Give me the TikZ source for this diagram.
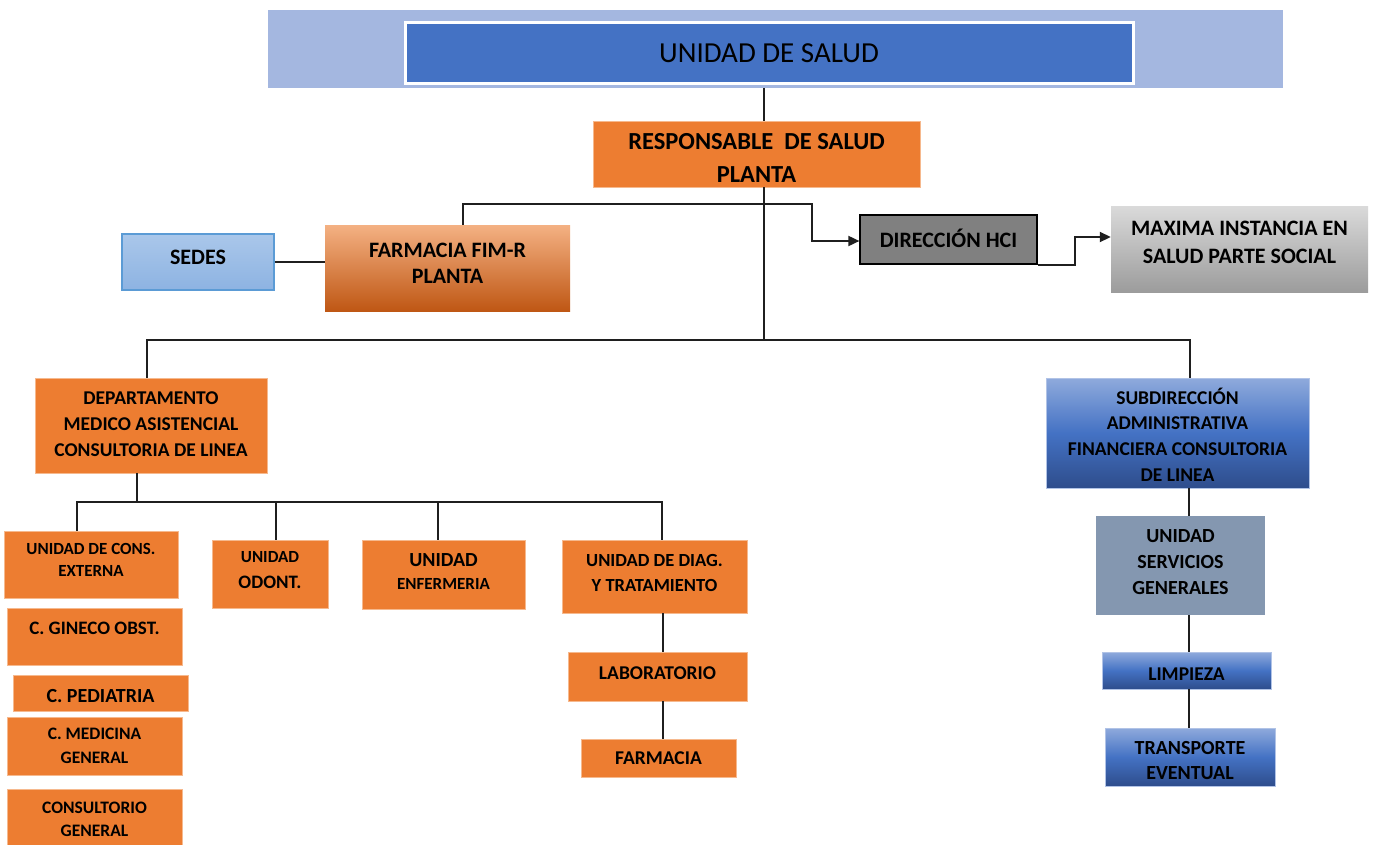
\documentclass[tikz,border=0pt]{standalone}
\usepackage{fontspec}
\setmainfont{Carlito}
\usetikzlibrary{arrows.meta}
\definecolor{bandblue}{HTML}{A4B7E0}
\definecolor{accblue}{HTML}{4472C4}
\definecolor{orgfill}{HTML}{ED7D31}
\definecolor{orgedge}{HTML}{F6B98E}
\definecolor{orglight}{HTML}{F4B183}
\definecolor{orgdark}{HTML}{BF5714}
\definecolor{skytop}{HTML}{AAC7EA}
\definecolor{skybot}{HTML}{8DB3E2}
\definecolor{skyedge}{HTML}{5B9BD5}
\definecolor{bluetop}{HTML}{8FAADC}
\definecolor{bluebot}{HTML}{2E4D8C}
\definecolor{greyfill}{HTML}{808080}
\definecolor{greytop}{HTML}{DADADA}
\definecolor{greybot}{HTML}{9C9C9C}
\definecolor{slate}{HTML}{8497B0}
\newcommand{\fsz}[2]{\fontsize{#1}{#2}\selectfont}
% \orgbox{name}{box style}{cx,cy}{width}{height}{text offset}{font}{text}
\newcommand{\orgbox}[8]{%
  \node[#2, wh={#4}{#5}] (#1) at (#3) {};
  \path (#1.center) ++(0,#6) node[txt, font=#7] (#1-t) {#8};}
\begin{document}
\begin{tikzpicture}[x=1pt,y=-1pt,
  wh/.style 2 args={minimum width=#1, minimum height=#2},
  box/.style={rectangle, inner sep=0pt},
  txt/.style={inner sep=0pt, align=center, text=black},
  obox/.style={box, fill=orgfill, draw=orgedge, line width=0.8pt},
  gbox/.style={box, shading=axis, top color=bluetop, bottom color=bluebot,
               middle color=accblue, draw=bluetop!70!white, line width=0.6pt},
  fbox/.style={box, shading=axis, top color=orglight, middle color=orgfill,
               bottom color=orgdark},
  sbox/.style={box, shading=axis, top color=skytop, bottom color=skybot,
               draw=skyedge, line width=1.2pt},
  dbox/.style={box, fill=greyfill, draw=black, line width=1.2pt},
  mbox/.style={box, shading=axis, top color=greytop, bottom color=greybot},
  vbox/.style={box, fill=slate},
  conn/.style={draw=black!88, line width=1.8pt},
  arr/.style={conn, -{Triangle[length=11pt,width=10pt]}}]

\clip (0,0) rectangle (1374,844);
\fill[white] (0,0) rectangle (1374,844);

% top level
\node[box, fill=bandblue, wh={1015}{78}] (band) at (775.5,49) {};
\orgbox{top}{box, fill=accblue, draw=white, line width=3pt}{769,52.5}{728}{61}{0.5}
  {\fsz{29}{34}}{UNIDAD DE SALUD}
\orgbox{resp}{obox}{756.5,154}{327}{66}{3.5}
  {\bfseries\fsz{24.5}{33}}{RESPONSABLE\ \ DE SALUD\\PLANTA}

% staff units
\orgbox{farm}{fbox}{447.5,268}{245}{86}{-4.5}
  {\bfseries\fsz{22}{26.5}}{FARMACIA FIM-R\\PLANTA}
\orgbox{sedes}{sbox}{198,262}{152}{56}{-5}{\bfseries\fsz{22}{27}}{SEDES}
\orgbox{dir}{dbox}{948.5,239.5}{177}{49}{-1}{\bfseries\fsz{22}{27}}{DIRECCIÓN HCI}
\orgbox{max}{mbox}{1239.5,249}{257}{86}{-7}
  {\bfseries\fsz{22}{28}}{MAXIMA INSTANCIA EN\\SALUD PARTE SOCIAL}

% line departments
\orgbox{dept}{obox}{151,425.5}{232}{95}{-1.5}
  {\bfseries\fsz{19.5}{26}}{DEPARTAMENTO\\MEDICO ASISTENCIAL\\CONSULTORIA DE LINEA}
\orgbox{sub}{gbox}{1177.5,433}{263}{110}{1.5}
  {\bfseries\fsz{19.5}{25.7}}{SUBDIRECCIÓN\\ADMINISTRATIVA\\FINANCIERA CONSULTORIA\\DE LINEA}

% medical units
\orgbox{cons}{obox}{91,564.5}{174}{67}{-4.5}
  {\bfseries\fsz{17}{22}}{UNIDAD DE CONS.\\EXTERNA}
\orgbox{odont}{obox}{270,574}{116}{68}{-4}
  {\bfseries\fsz{19}{26}}{{\fsz{17}{26}UNIDAD}\\ODONT.}
\orgbox{enf}{obox}{443.5,574.5}{163}{69}{-3}
  {\bfseries\fsz{17}{22.5}}{{\fsz{20}{22.5}UNIDAD}\\ENFERMERIA}
\orgbox{diag}{obox}{654.5,576.5}{185}{73}{-3.5}
  {\bfseries\fsz{18.5}{25}}{UNIDAD DE DIAG.\\Y TRATAMIENTO}

\orgbox{gin}{obox}{94.5,636.5}{175}{57}{-8}{\bfseries\fsz{19}{24}}{C. GINECO OBST.}
\orgbox{ped}{obox}{100.5,693}{175}{36}{2.5}{\bfseries\fsz{20}{24}}{C. PEDIATRIA}
\orgbox{med}{obox}{94.5,746}{175}{58}{-0.5}
  {\bfseries\fsz{17.5}{24}}{C. MEDICINA\\GENERAL}
\orgbox{consg}{obox}{94.5,819.5}{175}{61}{0}
  {\bfseries\fsz{17.5}{23}}{CONSULTORIO\\GENERAL}

\orgbox{lab}{obox}{657.5,676.5}{179}{49}{-3.5}{\bfseries\fsz{19.5}{24}}{LABORATORIO}
\orgbox{farmacia}{obox}{658.5,758}{155}{38}{0.5}{\bfseries\fsz{19.5}{24}}{FARMACIA}

% administrative units
\orgbox{serv}{vbox}{1180.5,565.5}{169}{99}{-3}
  {\bfseries\fsz{20}{26}}{UNIDAD\\SERVICIOS\\GENERALES}
\orgbox{limp}{gbox}{1186.5,670.5}{169}{37}{3.5}{\bfseries\fsz{19.5}{24}}{LIMPIEZA}
\orgbox{trans}{gbox}{1190,757}{170}{58}{3.5}
  {\bfseries\fsz{20}{25}}{TRANSPORTE\\EVENTUAL}

% junctions and trunk positions
\coordinate (spine) at (764,0);
\coordinate (j1) at (764,204);
\coordinate (fx) at (463,0);
\coordinate (dx) at (812,241);
\coordinate (mx) at (1075,237);
\coordinate (bar1) at (764,340);
\coordinate (dl) at (147,340);
\coordinate (sr) at (1190,340);
\coordinate (bar2) at (137,502);
\coordinate (c1) at (77,502);
\coordinate (c2) at (276,502);
\coordinate (c3) at (438,502);
\coordinate (c4) at (662,502);
\coordinate (dgx) at (663,0);
\coordinate (sx) at (1189,0);

% connectors
\draw[conn] (band.south -| spine) -- (resp.north -| spine);
\draw[conn] (resp.south -| spine) -- (bar1);
\draw[conn] (j1) -| (farm.north -| fx);
\draw[arr] (j1) -| (dx) -- (dir.west |- dx);
\draw[conn] (sedes.east) -- (farm.west |- sedes.east);
\draw[arr] (dir.south east) -| (mx) -- (max.west |- mx);
\draw[conn] (dept.north -| dl) |- (bar1) -| (sub.north -| sr);
\draw[conn] (dept.south -| bar2) -- (bar2);
\draw[conn] (cons.north -| c1) |- (c4) -- (diag.north -| c4);
\draw[conn] (c2) -- (odont.north -| c2);
\draw[conn] (c3) -- (enf.north -| c3);
\draw[conn] (diag.south -| dgx) -- (lab.north -| dgx);
\draw[conn] (lab.south -| dgx) -- (farmacia.north -| dgx);
\draw[conn] (sub.south -| sx) -- (serv.north -| sx);
\draw[conn] (serv.south -| sx) -- (limp.north -| sx);
\draw[conn] (limp.south -| sx) -- (trans.north -| sx);
\end{tikzpicture}
\end{document}
